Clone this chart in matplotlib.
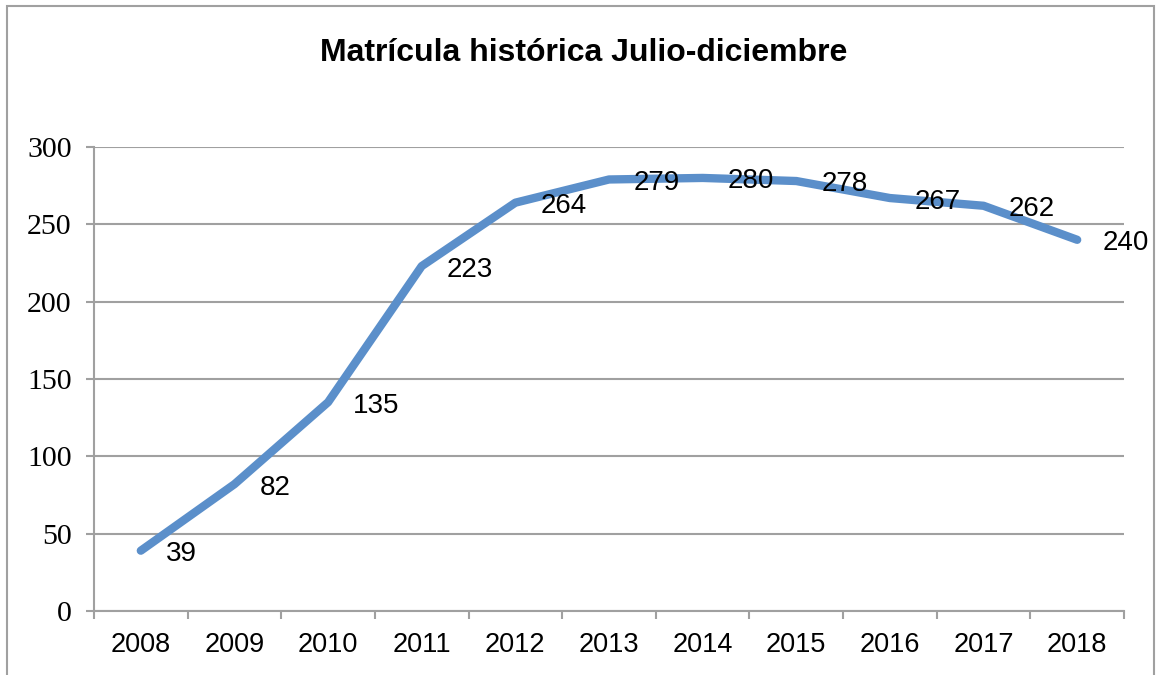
import matplotlib.pyplot as plt
from matplotlib.patches import Rectangle

years = ["2008", "2009", "2010", "2011", "2012", "2013",
         "2014", "2015", "2016", "2017", "2018"]
matricula = [39, 82, 135, 223, 264, 279, 280, 278, 267, 262, 240]
y_ticks = [0, 50, 100, 150, 200, 250, 300]

W, H = 1160, 675
fig = plt.figure(figsize=(W / 100, H / 100), dpi=100)
ax = fig.add_axes([94 / W, 1 - 611 / H, (1124 - 94) / W, (611 - 147) / H])

grey = "#A0A0A0"
x = list(range(len(years)))
ax.plot(x, matricula, color="#5B8FCA", lw=6, solid_capstyle="round",
        solid_joinstyle="round", zorder=3)

# etiquetas de datos a la derecha de cada punto
for xi, v in zip(x, matricula):
    ax.annotate(str(v), (xi, v), xytext=(18, -2.5), textcoords="offset points",
                ha="left", va="center", fontsize=20,
                family="Liberation Sans", zorder=4)

ax.set_xlim(-0.5, len(years) - 0.5)
ax.set_ylim(0, 300)
ax.set_yticks(y_ticks)
ax.set_yticklabels([str(t) for t in y_ticks], family="Liberation Serif",
                   fontsize=21.5)
ax.set_xticks(x)
ax.set_xticklabels(years, family="Liberation Sans", fontsize=19.5)
ax.set_xticks([i - 0.5 for i in range(len(years) + 1)], minor=True)
ax.tick_params(axis="x", which="major", length=0, pad=15)
ax.tick_params(axis="x", which="minor", length=6, width=1.5, color=grey)
ax.tick_params(axis="y", length=6, width=1.5, color=grey, pad=10)
ax.grid(axis="y", color=grey, lw=1.5)
ax.set_axisbelow(True)
for s in ["top", "right"]:
    ax.spines[s].set_visible(False)
for s in ["left", "bottom"]:
    ax.spines[s].set_color(grey)
    ax.spines[s].set_linewidth(1.5)

fig.text(584 / W, 1 - 53 / H, "Matrícula histórica Julio-diciembre",
         ha="center", va="center", fontsize=23, fontweight="bold",
         family="Liberation Sans")

# marco del área del gráfico
fig.patches.append(Rectangle((7 / W, -0.05), (1154 - 7) / W, 1.05 - 6 / H,
                             transform=fig.transFigure, fill=False,
                             edgecolor=grey, lw=1.5))

fig.savefig("out.png", dpi=100)
